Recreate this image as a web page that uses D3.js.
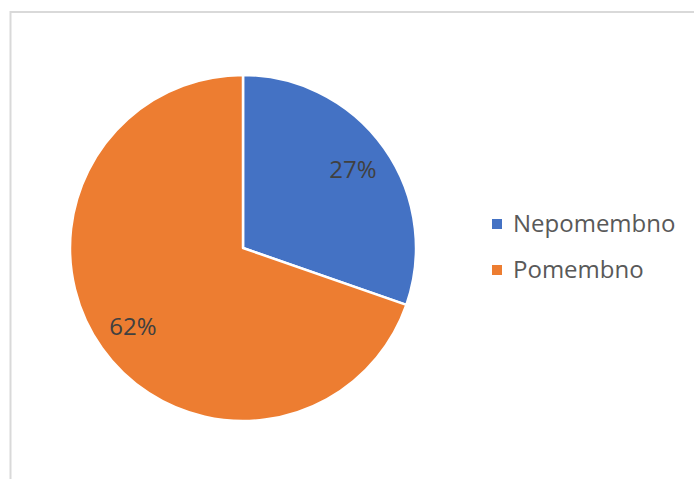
<html>
<head>
  <style type="text/css">
    body { margin: 0; background: #fff; }
  </style>
</head>
<body>
  <div id="viz"></div>
  <script src="https://cdnjs.cloudflare.com/ajax/libs/d3/7.8.5/d3.min.js"></script>
  <script>
  // data
  const categories = ['Nepomembno', 'Pomembno'];
  const values = [27, 62];
  const labels = ['27%', '62%'];
  const colors = ['#4472C4', '#ED7D31'];

  const width = 694, height = 479;
  const cx = 243, cy = 248, radius = 173;

  const svg = d3.select('#viz').append('svg')
    .attr('width', width)
    .attr('height', height);

  // chart area frame (right and bottom run past the picture)
  svg.append('rect')
    .attr('x', 10.5).attr('y', 12)
    .attr('width', 700).attr('height', 500)
    .attr('fill', 'none')
    .attr('stroke', '#d9d9d9')
    .attr('stroke-width', 2);

  const pie = d3.pie().sort(null).value(d => d);
  const arcs = pie(values);

  const arc = d3.arc().innerRadius(0).outerRadius(radius);
  const labelArc = d3.arc().innerRadius(radius * 0.78).outerRadius(radius * 0.78);

  const g = svg.append('g')
    .attr('transform', 'translate(' + cx + ',' + cy + ')');

  g.selectAll('path').data(arcs)
    .enter().append('path')
      .attr('d', arc)
      .attr('fill', (d, i) => colors[i])
      .attr('stroke', '#fff')
      .attr('stroke-width', 2.5)
      .attr('stroke-linejoin', 'round');

  g.selectAll('text').data(arcs)
    .enter().append('text')
      .attr('transform', d => 'translate(' + labelArc.centroid(d) + ')')
      .attr('text-anchor', 'middle')
      .attr('dy', '0.35em')
      .attr('font-family', 'Open Sans, Liberation Sans, sans-serif')
      .attr('font-size', 24)
      .attr('fill', '#404040')
      .text((d, i) => labels[i]);

  // legend
  const legend = svg.append('g')
    .attr('transform', 'translate(492,219)');

  const item = legend.selectAll('g').data(categories)
    .enter().append('g')
      .attr('transform', (d, i) => 'translate(0,' + i * 46 + ')');

  item.append('rect')
    .attr('width', 10).attr('height', 10)
    .attr('fill', (d, i) => colors[i]);

  item.append('text')
    .attr('x', 21).attr('y', 5)
    .attr('dy', '0.35em')
    .attr('font-family', 'Open Sans, Liberation Sans, sans-serif')
    .attr('font-size', 24)
    .attr('fill', '#595959')
    .text(d => d);
  </script>
</body>
</html>
